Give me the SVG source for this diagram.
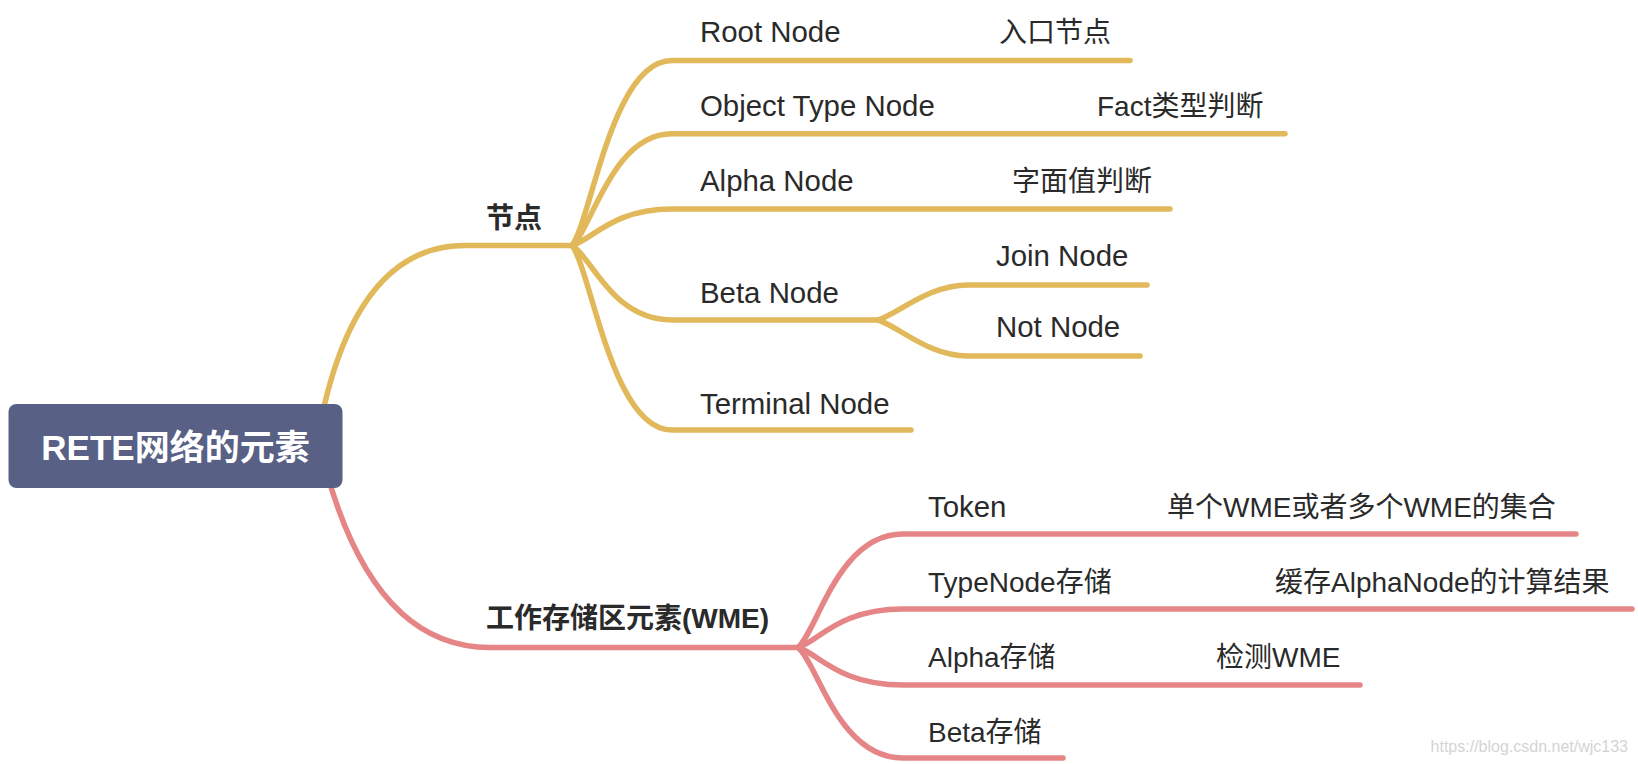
<svg xmlns="http://www.w3.org/2000/svg" width="1638" height="764" viewBox="0 0 1638 764">
<style>
  .y { fill: none; stroke: #e1b85a; stroke-width: 5.5; stroke-linecap: round; stroke-linejoin: round; }
  .p { fill: none; stroke: #e58585; stroke-width: 5.5; stroke-linecap: round; stroke-linejoin: round; }
  .t { font-family: "Liberation Sans", "Noto Sans CJK SC", sans-serif; font-size: 28px; fill: #2a2a2a; }
  .l { font-family: "Liberation Sans", "Noto Sans CJK SC", sans-serif; font-size: 29.4px; fill: #2a2a2a; }
  .b { font-family: "Liberation Sans", "Noto Sans CJK SC", sans-serif; font-size: 28px; font-weight: bold; fill: #2a2a2a; }
  .root { font-family: "Liberation Sans", "Noto Sans CJK SC", sans-serif; font-size: 35px; font-weight: bold; fill: #ffffff; }
  .wm { font-family: "Liberation Sans", sans-serif; font-size: 16px; fill: #d4d4d4; }
</style>
<rect width="1638" height="764" fill="#ffffff"/>
<g id="connectors">
  <path class="y" d="M320,425 Q356,245.5 465,245.5 L572,245.5"/>
  <path class="p" d="M326,470 Q375,647.5 490,647.5 L798,647.5"/>
  <path class="y" d="M572,245.5 C592,218 612,60.6 672,60.6 L1130,60.6"/>
  <path class="y" d="M572,245.5 C592,229 612,133.7 672,133.7 L1285,133.7"/>
  <path class="y" d="M572,245.5 C592,240 612,209 672,209 L1170,209"/>
  <path class="y" d="M572,245.5 C592,257 612,320 672,320 L878,320"/>
  <path class="y" d="M572,245.5 C592,273 612,430 672,430 L911,430"/>
  <path class="y" d="M878,320 C898,314 928,285 968,285 L1147,285"/>
  <path class="y" d="M878,320 C898,326 928,356 968,356 L1140,356"/>
  <path class="p" d="M798,647.5 C818,630 838,534 903,534 L1576,534"/>
  <path class="p" d="M798,647.5 C818,642 838,609 903,609 L1632,609"/>
  <path class="p" d="M798,647.5 C818,653 838,685 903,685 L1360,685"/>
  <path class="p" d="M798,647.5 C818,664 838,758 903,758 L1063,758"/>
</g>
<g id="root">
  <rect x="8.5" y="404" width="334" height="84" rx="8" fill="#596086"/>
  <text class="root" x="175.5" y="460" text-anchor="middle">RETE网络的元素</text>
</g>
<g id="n-jiedian"><text class="b" x="486" y="228">节点</text></g>
<g id="n-root-node"><text class="l" x="700" y="42">Root Node</text><text class="t" x="999" y="42">入口节点</text></g>
<g id="n-object-type"><text class="l" x="700" y="116">Object Type Node</text><text class="t" x="1097" y="116">Fact类型判断</text></g>
<g id="n-alpha"><text class="l" x="700" y="191">Alpha Node</text><text class="t" x="1012" y="191">字面值判断</text></g>
<g id="n-beta"><text class="l" x="700" y="302.5">Beta Node</text></g>
<g id="n-join"><text class="l" x="996" y="266">Join Node</text></g>
<g id="n-not"><text class="l" x="996" y="337">Not Node</text></g>
<g id="n-terminal"><text class="l" x="700" y="413.5">Terminal Node</text></g>
<g id="n-wme"><text class="b" x="486" y="628">工作存储区元素(WME)</text></g>
<g id="n-token"><text class="l" x="928" y="517">Token</text><text class="t" x="1167" y="517">单个WME或者多个WME的集合</text></g>
<g id="n-typenode"><text class="t" x="928" y="592">TypeNode存储</text><text class="t" x="1275" y="592">缓存AlphaNode的计算结果</text></g>
<g id="n-alpha-mem"><text class="t" x="928" y="667">Alpha存储</text><text class="t" x="1216" y="667">检测WME</text></g>
<g id="n-beta-mem"><text class="t" x="928" y="742">Beta存储</text></g>
<text class="wm" x="1628" y="752" text-anchor="end">https://blog.csdn.net/wjc133</text>
</svg>
